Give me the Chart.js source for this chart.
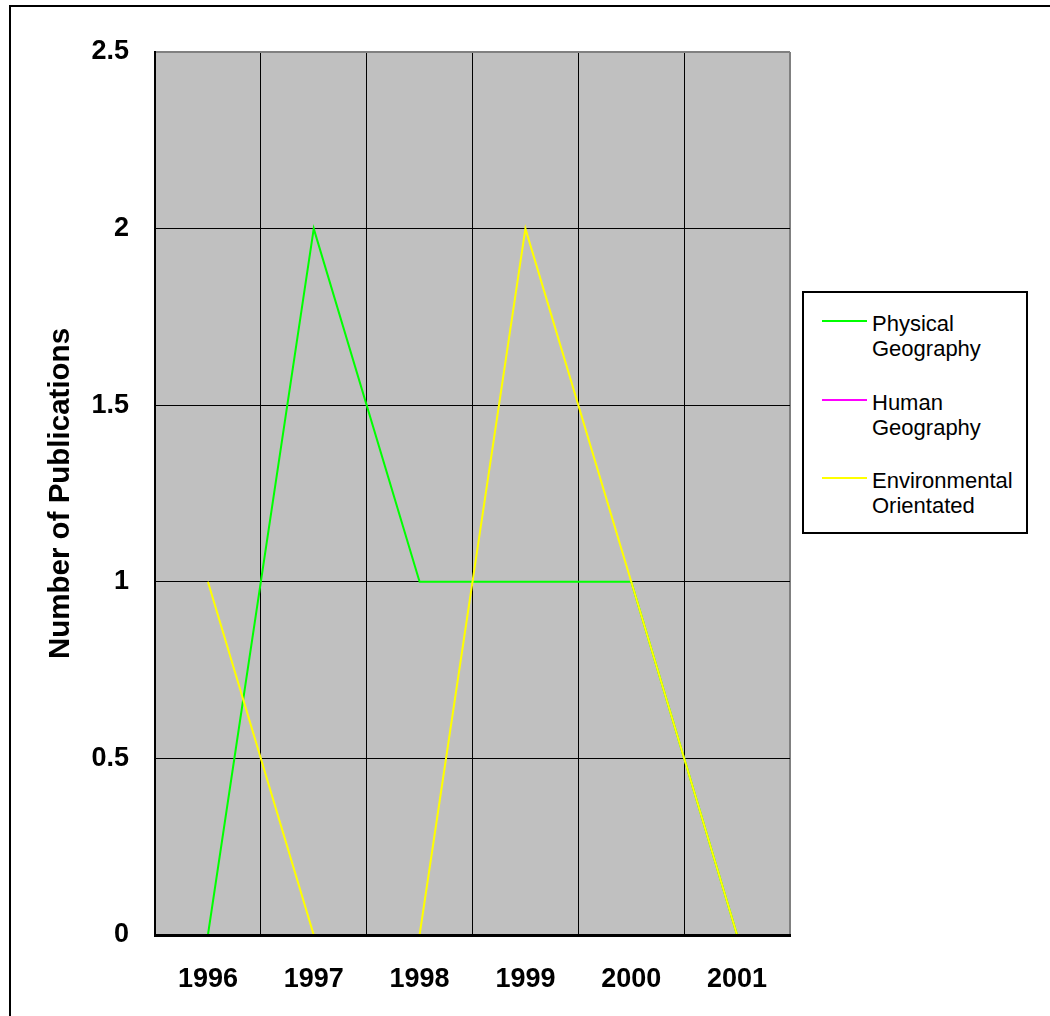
<!DOCTYPE html>
<html>
<head>
<meta charset="utf-8">
<script src="https://cdn.jsdelivr.net/npm/chart.js@4/dist/chart.umd.min.js"></script>
<style>
  html, body { margin: 0; padding: 0; background: #fff; overflow: hidden; }
  body { width: 1050px; height: 1016px; position: relative; font-family: 'Liberation Sans', Arial, sans-serif; }
  #frame { position: absolute; left: 9px; top: 5px; width: 1100px; height: 1100px; border-left: 2px solid #000; border-top: 2px solid #000; }
  #wrap { position: absolute; left: 0; top: 0; width: 1050px; height: 1016px; }
  #legend { position: absolute; left: 802px; top: 291px; width: 226px; height: 243px; box-sizing: border-box; border: 2px solid #000; background: #fff; }
  .item { position: absolute; left: 0; }
  .item .swatch { position: absolute; left: 18px; top: 9px; width: 45px; height: 2px; }
  .item .txt { position: absolute; left: 68px; top: 0; font-size: 22px; line-height: 25px; color: #000; white-space: nowrap; }
</style>
</head>
<body>
<div id="frame"></div>
<div id="wrap"><canvas id="chart" width="1050" height="1016"></canvas></div>
<div id="legend"></div>
<script>
const years = ['1996', '1997', '1998', '1999', '2000', '2001']
const physical = [0, 2, 1, 1, 1, 0]
const human = [0, 0, 0, 0, 0, 0]
const environmental = [1, 0, 0, 2, 1, 0]
const seriesNames = [['Physical', 'Geography'], ['Human', 'Geography'], ['Environmental', 'Orientated']]
const seriesColors = ['#00ff00', '#ff00ff', '#ffff00']
const yTicks = [0, 0.5, 1, 1.5, 2, 2.5]

const fontFamily = "'Liberation Sans', Arial, sans-serif"

// grey plot area like the old Excel charts
const plotBackground = {
  id: 'plotBackground',
  beforeDraw (chart) {
    const { ctx, chartArea: a } = chart
    ctx.save()
    ctx.fillStyle = '#c0c0c0'
    ctx.fillRect(a.left, a.top, a.right - a.left, a.bottom - a.top)
    ctx.restore()
  }
}

function render () {
  const ctx = document.getElementById('chart').getContext('2d')
  const values = [physical, human, environmental]
  const chart = new Chart(ctx, {
    type: 'line',
    data: {
      labels: years,
      datasets: values.map((data, i) => ({
        label: seriesNames[i].join(' '),
        data,
        borderColor: seriesColors[i],
        backgroundColor: seriesColors[i],
        borderWidth: 2,
        pointRadius: 0,
        tension: 0,
        fill: false,
        order: 3 - i
      }))
    },
    options: {
      responsive: false,
      animation: false,
      layout: { padding: { left: 39, top: 52, right: 260, bottom: 0 } },
      plugins: {
        legend: { display: false },
        tooltip: { enabled: false }
      },
      scales: {
        x: {
          offset: true,
          grid: {
            offset: true,
            drawTicks: false,
            color: c => c.type === 'tick' ? '#000' : '#808080',
            lineWidth: c => c.type === 'tick' ? 1 : 2
          },
          border: { color: '#000', width: 3, z: 1 },
          ticks: {
            padding: 28,
            color: '#000',
            font: { family: fontFamily, size: 27, weight: 'bold' }
          },
          afterFit (scale) { scale.height = 81 }
        },
        y: {
          min: 0,
          max: yTicks[yTicks.length - 1],
          afterBuildTicks (scale) { scale.ticks = yTicks.map(v => ({ value: v })) },
          grid: {
            drawTicks: false,
            color: c => c.tick && c.tick.value === yTicks[yTicks.length - 1] ? '#808080' : '#000',
            lineWidth: c => c.tick && c.tick.value === yTicks[yTicks.length - 1] ? 2 : 1
          },
          border: { color: '#000', width: 2 },
          ticks: {
            padding: 26,
            color: '#000',
            font: { family: fontFamily, size: 27, weight: 'bold' },
            callback: v => String(v)
          },
          title: {
            display: true,
            text: 'Number of Publications',
            color: '#000',
            font: { family: fontFamily, size: 29.5, weight: 'bold' }
          },
          afterFit (scale) { scale.width = 116 }
        }
      }
    },
    plugins: [plotBackground]
  })

  // html legend built from the datasets
  const legend = document.getElementById('legend')
  chart.data.datasets.forEach((ds, i) => {
    const item = document.createElement('div')
    item.className = 'item'
    item.style.top = (18 + i * 78.5) + 'px'
    const sw = document.createElement('span')
    sw.className = 'swatch'
    sw.style.background = ds.borderColor
    const txt = document.createElement('div')
    txt.className = 'txt'
    txt.innerHTML = seriesNames[i].join('<br>')
    item.appendChild(sw)
    item.appendChild(txt)
    legend.appendChild(item)
  })
}

window.onload = render
</script>
</body>
</html>
